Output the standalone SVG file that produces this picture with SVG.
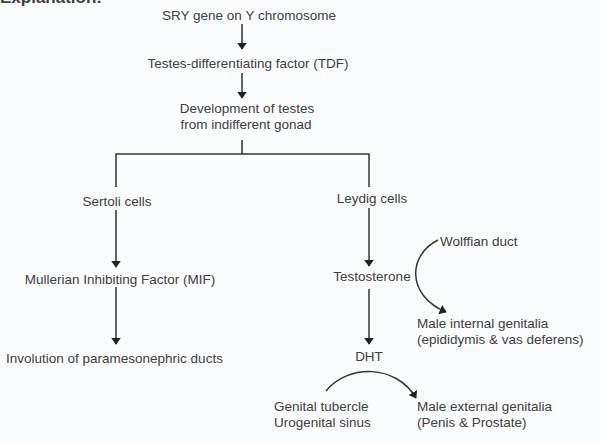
<svg xmlns="http://www.w3.org/2000/svg" width="600" height="442" viewBox="0 0 600 442">
<style>
text{font-family:"Liberation Sans",Arial,sans-serif;font-size:13.5px;fill:#404040}
.c{text-anchor:middle}
.ln{stroke:#333;stroke-width:1.5;fill:none}
</style>
<defs>
<marker id="ah" viewBox="0 0 10 10" refX="9" refY="5" markerWidth="7" markerHeight="10" markerUnits="userSpaceOnUse" orient="auto" preserveAspectRatio="none">
<path d="M0,0 L10,5 L0,10 Z" fill="#222"/>
</marker>
</defs>
<rect width="600" height="442" fill="#fbfcfd"/>
<text x="0" y="3" style="font-weight:bold;font-size:17px">Explanation:</text>
<g id="connectors">
<line class="ln" x1="242" y1="24" x2="242" y2="49" marker-end="url(#ah)"/>
<line class="ln" x1="242" y1="73" x2="242" y2="98" marker-end="url(#ah)"/>
<polyline class="ln" points="242,140 242,154"/>
<polyline class="ln" points="116,187 116,154 369,154 369,187"/>
<line class="ln" x1="116" y1="210" x2="116" y2="267" marker-end="url(#ah)"/>
<line class="ln" x1="116" y1="287" x2="116" y2="344" marker-end="url(#ah)"/>
<line class="ln" x1="369" y1="208" x2="369" y2="266" marker-end="url(#ah)"/>
<line class="ln" x1="369" y1="289" x2="369" y2="344" marker-end="url(#ah)"/>
<path class="ln" d="M438,240 C408,255 406,295 446,312" marker-end="url(#ah)"/>
<path class="ln" d="M326,391 C348,364 396,364 416,398" marker-end="url(#ah)"/>
</g>
<g id="sry"><text class="c" x="249" y="20">SRY gene on Y chromosome</text></g>
<g id="tdf"><text class="c" x="248" y="68">Testes-differentiating factor (TDF)</text></g>
<g id="dev"><text class="c" x="247" y="113">Development of testes</text><text class="c" x="246" y="129">from indifferent gonad</text></g>
<g id="sertoli"><text class="c" x="117" y="206">Sertoli cells</text></g>
<g id="mif"><text class="c" x="120" y="284">Mullerian Inhibiting Factor (MIF)</text></g>
<g id="involution"><text x="6" y="363">Involution of paramesonephric ducts</text></g>
<g id="leydig"><text class="c" x="372" y="203">Leydig cells</text></g>
<g id="testosterone"><text class="c" x="372" y="281">Testosterone</text></g>
<g id="dht"><text class="c" x="369" y="361">DHT</text></g>
<g id="wolffian"><text x="440" y="246">Wolffian duct</text></g>
<g id="internal"><text x="417" y="328">Male internal genitalia</text><text x="417" y="344">(epididymis &amp; vas deferens)</text></g>
<g id="genital"><text x="274" y="411">Genital tubercle</text><text x="274" y="427">Urogenital sinus</text></g>
<g id="external"><text x="417" y="411">Male external genitalia</text><text x="417" y="427">(Penis &amp; Prostate)</text></g>
</svg>
